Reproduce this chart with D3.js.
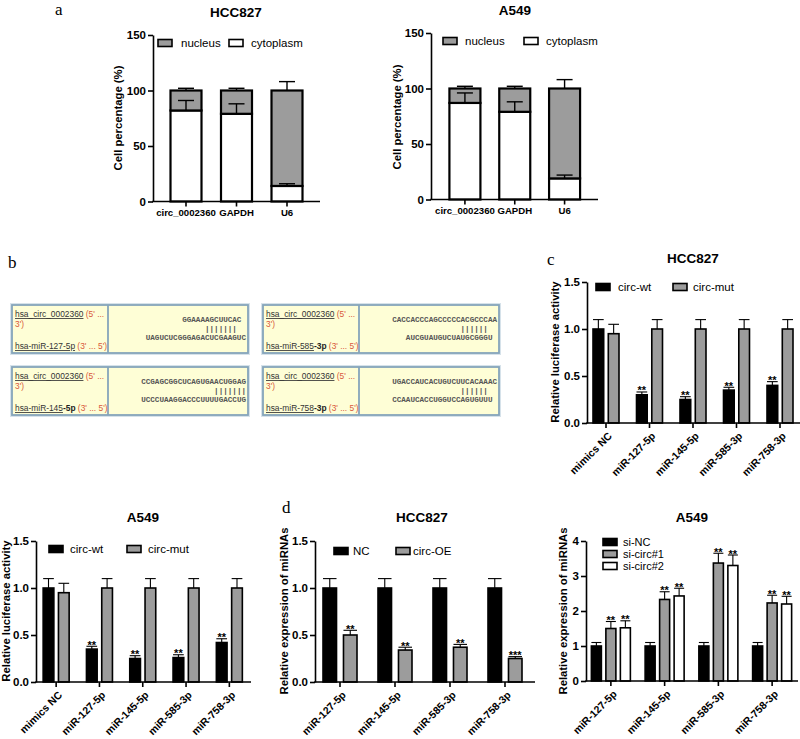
<!DOCTYPE html>
<html><head><meta charset="utf-8">
<script src="https://cdn.jsdelivr.net/npm/d3@7"></script>
<style>
body{margin:0;background:#fff;}
svg{display:block;font-family:"Liberation Sans",Arial,sans-serif;}
</style></head><body>
<svg id="fig" width="800" height="739"></svg>
<script>
// ================= DATA =================
// panel a : subcellular localisation
const locCategories = ["circ_0002360","GAPDH","U6"];
const locKeys = ["cytoplasm","nucleus"];
const locTicks = [0,50,100,150];
const hccCytoplasm = [82,79,14];
const hccNucleus = [18,21,86];
const hccCytoErr = [9,9,2];
const hccNucleusErr = [2,2,8];
const a549Cytoplasm = [87,79,19];
const a549Nucleus = [13,21,81];
const a549CytoErr = [9,9,3];
const a549NucleusErr = [2,2,8];

// panel b : binding sites
const seqCirc = "hsa_circ_0002360";
const seqMirMain = ["hsa-miR-127-5p","hsa-miR-585","hsa-miR-145","hsa-miR-758"];
const seqMirSuffix = ["","-3p","-5p","-3p"];
const seqTop = ["GGAAAAGCUUCAC ","CACCACCCAGCCCCCACGCCCAA","CCGAGCGGCUCAGUGAACUGGAG","UGACCAUCACUGUCUUCACAAAC"];
const seqPairs = ["|||||||  ","||||||  ","|||||||","||||||  "];
const seqBottom = ["UAGUCUCGGGAGACUCGAAGUC","AUCGUAUGUCUAUGCGGGU ","UCCCUAAGGACCCUUUUGACCUG","CCAAUCACCUGGUCCAGUGUUU "];

// panel c / luciferase
const lucCategories = ["mimics NC","miR-127-5p","miR-145-5p","miR-585-3p","miR-758-3p"];
const lucSeries = ["circ-wt","circ-mut"];
const lucTicks = [0,0.5,1.0,1.5];
const hccLucWt = [1.0,0.30,0.25,0.35,0.40];
const hccLucWtErr = [0.10,0.03,0.03,0.03,0.04];
const hccLucMut = [0.95,1.0,1.0,1.0,1.0];
const hccLucMutErr = [0.10,0.10,0.10,0.10,0.10];
const hccLucStars = ["","**","**","**","**"];
const a549LucWt = [1.0,0.35,0.25,0.26,0.42];
const a549LucWtErr = [0.10,0.03,0.03,0.03,0.04];
const a549LucMut = [0.95,1.0,1.0,1.0,1.0];
const a549LucMutErr = [0.10,0.10,0.10,0.10,0.10];
const a549LucStars = ["","**","**","**","**"];

// panel d / miRNA expression
const mirCategories = ["miR-127-5p","miR-145-5p","miR-585-3p","miR-758-3p"];
const oeSeries = ["NC","circ-OE"];
const oeTicks = [0,0.5,1.0,1.5];
const oeNC = [1.0,1.0,1.0,1.0];
const oeNCErr = [0.10,0.10,0.10,0.10];
const oeCirc = [0.50,0.34,0.37,0.25];
const oeCircErr = [0.05,0.03,0.03,0.02];
const oeStars = ["**","**","**","***"];
const siSeries = ["si-NC","si-circ#1","si-circ#2"];
const siTicks = [0,1,2,3,4];
const siNC = [1.0,1.0,1.0,1.0];
const siNCErr = [0.10,0.10,0.10,0.10];
const siCirc1 = [1.50,2.33,3.37,2.23];
const siCirc1Err = [0.20,0.22,0.28,0.22];
const siCirc2 = [1.52,2.43,3.30,2.20];
const siCirc2Err = [0.20,0.22,0.30,0.22];
const siStars1 = ["**","**","**","**"];
const siStars2 = ["**","**","**","**"];

// ================= DRAWING =================
const svg = d3.select("#fig");
const FONT = "Liberation Sans, Arial, sans-serif";
const GRAY = "#9c9c9c";

function styleAxis(sel){
  sel.select(".domain").attr("stroke","#000").attr("stroke-width",1.6);
  sel.selectAll(".tick line").attr("stroke","#000").attr("stroke-width",1.6);
  sel.selectAll(".tick text").attr("fill","#000").attr("font-weight","bold")
     .attr("font-size",11.5).attr("font-family",FONT);
}
function txt(x,y,s,o={}){
  const t = svg.append("text").attr("x",x).attr("y",y).text(s)
    .attr("font-family",o.family||FONT).attr("font-size",o.size||11)
    .attr("font-weight",o.weight||"normal").attr("text-anchor",o.anchor||"start")
    .attr("fill",o.fill||"#000");
  return t;
}
function yLabel(x,yc,s){
  svg.append("text").attr("transform",`translate(${x},${yc}) rotate(-90)`)
    .attr("text-anchor","middle").attr("font-family",FONT).attr("font-size",11.3)
    .attr("font-weight","bold").text(s);
}
function swatch(x,yc,fill){
  svg.append("rect").attr("x",x).attr("y",yc-3.5).attr("width",14).attr("height",7)
    .attr("fill",fill).attr("stroke","#000").attr("stroke-width",1.6);
}
function panelLetter(x,y,s){
  txt(x,y,s,{family:"Liberation Serif, Times New Roman, serif",size:17});
}

// ---------- stacked chart (panel a) ----------
function stackedChart(o){
  const g = svg.append("g");
  const y = d3.scaleLinear().domain([0,150]).range([o.y0,o.y1]);
  const x = d3.scaleBand().domain(locCategories).range(o.band);
  const rows = locCategories.map((c,i)=>({cat:c,cytoplasm:o.cyto[i],nucleus:o.nuc[i],ce:o.cytoErr[i],ne:o.nucErr[i]}));
  const stacked = d3.stack().keys(locKeys)(rows);
  const cx = c => x(c)+x.bandwidth()/2;
  const bw = o.barW;
  const fills = {cytoplasm:"#fff",nucleus:GRAY};
  stacked.forEach(layer=>{
    g.append("g").selectAll("rect").data(layer).join("rect")
      .attr("x",d=>cx(d.data.cat)-bw/2).attr("y",d=>y(d[1]))
      .attr("width",bw).attr("height",d=>y(d[0])-y(d[1]))
      .attr("fill",fills[layer.key]).attr("stroke","#000").attr("stroke-width",2.2);
  });
  const eg = g.append("g").attr("stroke","#000").attr("stroke-width",1.4);
  rows.forEach(d=>{
    const xc = cx(d.cat);
    [[d.cytoplasm,d.cytoplasm+d.ce],[d.cytoplasm+d.nucleus,d.cytoplasm+d.nucleus+d.ne]].forEach(([a,b])=>{
      eg.append("line").attr("x1",xc).attr("x2",xc).attr("y1",y(a)).attr("y2",y(b));
      eg.append("line").attr("x1",xc-8).attr("x2",xc+8).attr("y1",y(b)).attr("y2",y(b));
    });
  });
  const ya = g.append("g").attr("transform",`translate(${o.ax0},0)`)
    .call(d3.axisLeft(y).tickValues(locTicks).tickSize(5).tickSizeOuter(0).tickPadding(2));
  styleAxis(ya);
  g.append("line").attr("x1",o.ax0-0.8).attr("x2",o.ax1).attr("y1",y(0)).attr("y2",y(0))
    .attr("stroke","#000").attr("stroke-width",1.6);
  const xa = g.append("g").attr("transform",`translate(0,${y(0)})`)
    .call(d3.axisBottom(x).tickSize(5).tickSizeOuter(0).tickPadding(3));
  xa.select(".domain").remove();
  styleAxis(xa);
  xa.selectAll(".tick text").attr("font-size",9.6);
}

// ---------- grouped chart ----------
function groupedChart(o){
  const g = svg.append("g");
  const y = d3.scaleLinear().domain(o.domain).range([o.y0,o.y1]);
  const x0 = d3.scaleBand().domain(o.categories).range(o.band);
  const x1 = d3.scaleBand().domain(o.series.map(s=>s.name)).range([-o.groupW/2,o.groupW/2]).paddingInner(o.pad);
  const cx = c => x0(c)+x0.bandwidth()/2;
  o.series.forEach(s=>{
    const rows = o.categories.map((c,i)=>({c,v:s.values[i],e:s.errs[i],star:s.stars?s.stars[i]:""}));
    const gs = g.append("g");
    const ex = d => cx(d.c)+x1(s.name)+x1.bandwidth()/2;
    gs.selectAll("line.ev").data(rows).join("line").attr("class","ev")
      .attr("x1",ex).attr("x2",ex).attr("y1",d=>y(d.v)).attr("y2",d=>y(d.v+d.e))
      .attr("stroke","#000").attr("stroke-width",1.1);
    gs.selectAll("line.ec").data(rows).join("line").attr("class","ec")
      .attr("x1",d=>ex(d)-x1.bandwidth()/2).attr("x2",d=>ex(d)+x1.bandwidth()/2)
      .attr("y1",d=>y(d.v+d.e)).attr("y2",d=>y(d.v+d.e))
      .attr("stroke","#000").attr("stroke-width",1.1);
    gs.selectAll("rect").data(rows).join("rect")
      .attr("x",d=>cx(d.c)+x1(s.name)).attr("y",d=>y(d.v))
      .attr("width",x1.bandwidth()).attr("height",d=>y(0)-y(d.v))
      .attr("fill",s.fill).attr("stroke","#000").attr("stroke-width",1.6);
    gs.selectAll("text").data(rows.filter(d=>d.star)).join("text")
      .attr("x",ex).attr("y",d=>y(d.v+d.e)+2.5).attr("text-anchor","middle")
      .attr("font-family",FONT).attr("font-size",11).attr("font-weight","bold").text(d=>d.star);
  });
  const ya = g.append("g").attr("transform",`translate(${o.ax0},0)`)
    .call(d3.axisLeft(y).tickValues(o.ticks).tickSize(5).tickSizeOuter(0).tickPadding(2).tickFormat(o.fmt));
  styleAxis(ya);
  g.append("line").attr("x1",o.ax0-0.8).attr("x2",o.ax1).attr("y1",y(0)).attr("y2",y(0))
    .attr("stroke","#000").attr("stroke-width",1.6);
  const xa = g.append("g").attr("transform",`translate(0,${y(0)})`)
    .call(d3.axisBottom(x0).tickSize(5).tickSizeOuter(0));
  xa.select(".domain").remove();
  styleAxis(xa);
  xa.selectAll(".tick text").attr("y",0).attr("x",null)
    .attr("text-anchor","end").attr("font-size",10.5)
    .attr("transform","translate(4,11) rotate(-45)").attr("dy","0.35em");
}

// ===== panel a =====
panelLetter(55,15,"a");
txt(236,17,"HCC827",{weight:"bold",size:13.5,anchor:"middle"});
stackedChart({y0:201.5,y1:35,band:[160.75,312.25],barW:31,ax0:153,ax1:320,
  cyto:hccCytoplasm,nuc:hccNucleus,cytoErr:hccCytoErr,nucErr:hccNucleusErr});
yLabel(122,118,"Cell percentage (%)");
swatch(158,43,GRAY); txt(181,47,locKeys[1],{size:11.5});
swatch(229,43,"#fff"); txt(251,47,locKeys[0],{size:11.5});

txt(515,15,"A549",{weight:"bold",size:13.5,anchor:"middle"});
stackedChart({y0:199.5,y1:33,band:[440,589.5],barW:31,ax0:431,ax1:598,
  cyto:a549Cytoplasm,nuc:a549Nucleus,cytoErr:a549CytoErr,nucErr:a549NucleusErr});
yLabel(401,117,"Cell percentage (%)");
swatch(443,41,GRAY); txt(465,45,locKeys[1],{size:11.5});
swatch(524,41,"#fff"); txt(546,45,locKeys[0],{size:11.5});

// ===== panel b =====
panelLetter(8,268,"b");
const boxPos = [[12,305],[263,305],[12,367],[263,367]];
seqMirMain.forEach((m,i)=>{
  const [bx,by] = boxPos[i];
  const W = 236, H = 48, L = 96;
  const g = svg.append("g").attr("transform",`translate(${bx},${by})`);
  g.append("rect").attr("x",-1).attr("y",-1).attr("width",W+2).attr("height",H+2)
    .attr("fill","none").attr("stroke","#d6e2ea").attr("stroke-width",2);
  g.append("rect").attr("width",W).attr("height",H).attr("fill","#fefed6")
    .attr("stroke","#86a5bb").attr("stroke-width",1.8);
  g.append("line").attr("x1",L).attr("x2",L).attr("y1",0).attr("y2",H)
    .attr("stroke","#86a5bb").attr("stroke-width",1.8);
  const t1 = g.append("text").attr("x",3).attr("y",12).attr("font-family",FONT).attr("font-size",8.4);
  t1.append("tspan").attr("fill","#333").style("text-decoration","underline").text(seqCirc);
  t1.append("tspan").attr("fill","#d9593b").text(" (5' ...");
  g.append("text").attr("x",3).attr("y",22).attr("font-family",FONT).attr("font-size",8.4)
    .attr("fill","#d9593b").text("3')");
  const t3 = g.append("text").attr("x",3).attr("y",44).attr("font-family",FONT).attr("font-size",8.4);
  t3.append("tspan").attr("fill","#333").style("text-decoration","underline").text(m);
  if(seqMirSuffix[i]) t3.append("tspan").attr("fill","#222").attr("font-weight","bold").text(seqMirSuffix[i]);
  t3.append("tspan").attr("fill","#d9593b").text(" (3' ... 5')");
  const monoFam = "Liberation Mono, DejaVu Sans Mono, monospace";
  [[seqTop[i],17],[seqPairs[i],26],[seqBottom[i],35]].forEach(([s,yy])=>{
    g.append("text").attr("x",W-2).attr("y",yy).attr("text-anchor","end")
      .attr("font-family",monoFam).attr("font-size",7.6).attr("font-weight","bold")
      .attr("fill","#555").attr("xml:space","preserve").style("white-space","pre").text(s);
  });
});

// ===== panel c =====
panelLetter(547,265,"c");
txt(693,263,"HCC827",{weight:"bold",size:13.5,anchor:"middle"});
groupedChart({domain:[0,1.5],y0:423,y1:282,band:[584.25,801.75],groupW:26,pad:0.3,
  ax0:587,ax1:800,ticks:lucTicks,fmt:d3.format(".1f"),categories:lucCategories,
  series:[{name:lucSeries[0],fill:"#000",values:hccLucWt,errs:hccLucWtErr,stars:hccLucStars},
          {name:lucSeries[1],fill:GRAY,values:hccLucMut,errs:hccLucMutErr}]});
yLabel(559,352,"Relative luciferase activity");
swatch(596,287,"#000"); txt(618,291,lucSeries[0],{size:11.5});
swatch(673,287,GRAY); txt(693,291,lucSeries[1],{size:11.5});

// ===== bottom left: A549 luciferase =====
txt(143,522,"A549",{weight:"bold",size:13.5,anchor:"middle"});
groupedChart({domain:[0,1.5],y0:682,y1:541,band:[34.5,251],groupW:26,pad:0.3,
  ax0:36,ax1:251,ticks:lucTicks,fmt:d3.format(".1f"),categories:lucCategories,
  series:[{name:lucSeries[0],fill:"#000",values:a549LucWt,errs:a549LucWtErr,stars:a549LucStars},
          {name:lucSeries[1],fill:GRAY,values:a549LucMut,errs:a549LucMutErr}]});
yLabel(10,611,"Relative luciferase activity");
swatch(49,549,"#000"); txt(70,553,lucSeries[0],{size:11.5});
swatch(127,549,GRAY); txt(148,553,lucSeries[1],{size:11.5});

// ===== panel d =====
panelLetter(282,513,"d");
txt(422,522,"HCC827",{weight:"bold",size:13.5,anchor:"middle"});
groupedChart({domain:[0,1.5],y0:682,y1:541,band:[312.5,532.5],groupW:34,pad:0.34,
  ax0:315,ax1:535,ticks:oeTicks,fmt:d3.format(".1f"),categories:mirCategories,
  series:[{name:oeSeries[0],fill:"#000",values:oeNC,errs:oeNCErr},
          {name:oeSeries[1],fill:GRAY,values:oeCirc,errs:oeCircErr,stars:oeStars}]});
yLabel(288,611,"Relative expression of miRNAs");
swatch(334,551,"#000"); txt(353,555,oeSeries[0],{size:11.5});
swatch(396,551,GRAY); txt(413,555,oeSeries[1],{size:11.5});

// ===== bottom right: A549 siRNA =====
txt(692,522,"A549",{weight:"bold",size:13.5,anchor:"middle"});
groupedChart({domain:[0,4],y0:681,y1:541,band:[584,799],groupW:39,pad:0.31,
  ax0:586,ax1:798,ticks:siTicks,fmt:d3.format("d"),categories:mirCategories,
  series:[{name:siSeries[0],fill:"#000",values:siNC,errs:siNCErr},
          {name:siSeries[1],fill:GRAY,values:siCirc1,errs:siCirc1Err,stars:siStars1},
          {name:siSeries[2],fill:"#fff",values:siCirc2,errs:siCirc2Err,stars:siStars2}]});
yLabel(567,611,"Relative expression of miRNAs");
swatch(603,542,"#000"); txt(623,546,siSeries[0],{size:11});
swatch(603,554,GRAY); txt(623,558,siSeries[1],{size:11});
swatch(603,566,"#fff"); txt(623,570,siSeries[2],{size:11});
</script></body></html>
